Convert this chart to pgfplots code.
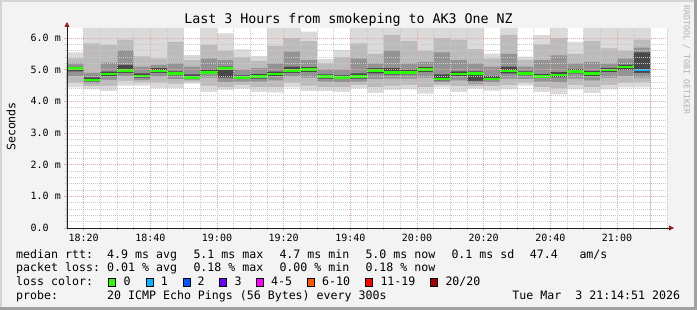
\documentclass[border=0pt]{standalone}
\usepackage{pgfplots}
\pgfplotsset{compat=1.18}
\usepackage{pgfplotstable}
\usetikzlibrary{arrows.meta}
\usepackage{fontspec}
\setmainfont{DejaVu Sans Mono}

\definecolor{bg}{HTML}{F3F3F3}
\definecolor{shadeA}{HTML}{D4D4D4}
\definecolor{shadeB}{HTML}{A0A0A0}
\definecolor{mgridc}{HTML}{E8A8A8}
\definecolor{gridc}{HTML}{C8C8C8}
\definecolor{arrowc}{HTML}{8F1F1F}
\definecolor{axisc}{HTML}{1F1F1F}
\definecolor{rrdc}{HTML}{B0B0B0}
\definecolor{s1}{HTML}{DADADA}
\definecolor{s2}{HTML}{BBBBBB}
\definecolor{s3}{HTML}{939393}
\definecolor{s4}{HTML}{484848}
\definecolor{lc0}{HTML}{26FF00}
\definecolor{lc1}{HTML}{00B8FF}
\definecolor{lc2}{HTML}{0059FF}
\definecolor{lc3}{HTML}{6A00FF}
\definecolor{lc45}{HTML}{FF00FF}
\definecolor{lc610}{HTML}{FF5500}
\definecolor{lc1119}{HTML}{FF0000}
\definecolor{lc20}{HTML}{A10000}

\pgfplotstableread{
x   mn   p10  p25  p40  med  p60  p75  p90  mx
0   4.44 4.58 4.80 4.95 5.03 5.09 5.20 5.36 5.55
5   4.38 4.48 4.57 4.63 4.68 4.76 4.90 5.83 6.32
10  4.33 4.50 4.68 4.80 4.86 4.94 5.22 5.78 6.32
15  4.50 4.65 4.80 4.90 4.97 5.15 5.62 5.95 6.32
20  4.50 4.60 4.68 4.75 4.80 4.88 5.10 5.42 6.32
25  4.42 4.58 4.78 4.90 4.96 5.05 5.15 5.35 6.32
30  4.42 4.55 4.70 4.82 4.87 4.95 5.20 5.88 6.32
35  4.56 4.62 4.68 4.72 4.75 4.85 5.10 5.30 5.46
40  4.30 4.50 4.75 4.86 4.91 5.00 5.35 5.78 6.32
45  4.36 4.45 4.60 4.75 5.03 5.10 5.30 5.60 6.15
50  4.40 4.52 4.62 4.70 4.75 4.82 5.00 5.40 5.64
55  4.30 4.45 4.62 4.72 4.78 4.86 5.05 5.28 5.43
60  4.28 4.45 4.66 4.80 4.86 4.94 5.20 5.75 6.32
65  4.44 4.58 4.78 4.90 4.97 5.10 5.57 6.00 6.32
70  4.33 4.50 4.75 4.92 5.00 5.08 5.30 5.90 6.20
75  4.32 4.45 4.62 4.72 4.78 4.85 5.00 5.20 5.33
80  4.30 4.45 4.60 4.70 4.75 4.82 5.00 5.40 5.62
85  4.41 4.52 4.62 4.72 4.78 4.88 5.35 5.83 6.32
90  4.27 4.45 4.70 4.88 4.97 5.05 5.20 5.50 6.32
95  4.36 4.50 4.72 4.84 4.91 5.05 5.60 6.10 6.32
100 4.38 4.52 4.72 4.85 4.91 5.00 5.20 5.90 6.32
105 4.24 4.45 4.75 4.92 5.00 5.08 5.25 5.60 6.32
110 4.44 4.52 4.60 4.66 4.71 4.85 5.55 6.00 6.32
115 4.30 4.48 4.66 4.80 4.86 4.95 5.30 5.95 6.32
120 4.40 4.48 4.55 4.65 4.87 4.95 5.20 5.65 6.32
125 4.34 4.48 4.60 4.67 4.71 4.80 5.10 5.35 5.51
130 4.38 4.52 4.72 4.88 4.96 5.10 5.50 6.10 6.32
135 4.50 4.58 4.70 4.82 4.87 4.95 5.10 5.30 5.41
140 4.30 4.45 4.62 4.73 4.78 4.86 5.30 5.80 6.09
145 4.22 4.40 4.60 4.76 4.83 4.92 5.45 6.00 6.32
150 4.38 4.52 4.72 4.88 4.94 5.02 5.20 5.50 5.88
155 4.26 4.45 4.66 4.80 4.87 4.96 5.25 5.90 6.32
160 4.38 4.52 4.75 4.92 4.99 5.06 5.20 5.67 6.32
165 4.44 4.58 4.80 5.00 5.09 5.16 5.35 5.60 6.32
170 4.44 4.60 4.75 4.90 4.99 5.55 5.70 5.95 6.32
175 4.44 4.60 4.75 4.90 4.99 5.55 5.70 5.95 6.32
}\smoke

\newcommand{\lf}{\fontsize{11.6}{14}\selectfont}

\begin{document}
\begin{tikzpicture}[x=1pt,y=1pt]
\fill[bg] (0,0) rectangle (697,310);
\fill[shadeA] (0,308) rectangle (697,310);
\fill[shadeA] (0,0) rectangle (2,310);
\fill[shadeB] (0,0) rectangle (697,3);
\fill[shadeB] (694,0) rectangle (697,310);

\begin{axis}[
  at={(67pt,82pt)}, anchor=south west, scale only axis,
  width=600pt, height=200pt,
  xmin=0, xmax=180, ymin=0, ymax=6.316,
  axis background/.style={fill=white},
  axis lines=left, axis on top,
  x axis line style={draw=axisc, line width=0.8pt, -{Triangle[length=5pt,width=5pt,color=arrowc]}, shorten >=-7pt},
  y axis line style={draw=axisc, line width=0.8pt, -{Triangle[length=5pt,width=5pt,color=arrowc]}, shorten >=-6pt},
  xtick={5,25,...,165},
  xticklabels={18:20,18:40,19:00,19:20,19:40,20:00,20:20,20:40,21:00},
  minor xtick={0,5,...,180},
  ytick={0,1,...,6},
  yticklabels={0.0,1.0 m,2.0 m,3.0 m,4.0 m,5.0 m,6.0 m},
  minor y tick num=4,
  grid=both,
  major grid style={draw=mgridc, line width=0.7pt, dash pattern=on 1pt off 1pt},
  minor grid style={draw=gridc, line width=0.7pt, dash pattern=on 1pt off 1pt},
  tick align=outside, major tick length=3pt, minor tick length=2pt,
  major tick style={draw=mgridc, line width=0.7pt},
  minor tick style={draw=gridc, line width=0.7pt},
  xticklabel style={font=\fontsize{10}{12}\selectfont, anchor=center, yshift=-6.5pt, inner sep=0pt},
  yticklabel style={font=\fontsize{10}{12}\selectfont, anchor=west, xshift=-33.5pt, inner sep=0pt},
  /pgf/number format/assume math mode=true,
  every axis plot/.append style={draw=none, const plot mark left},
]
\addplot[fill=s1] table[x=x,y=mx]  {\smoke} \closedcycle;
\addplot[fill=s2] table[x=x,y=p90] {\smoke} \closedcycle;
\addplot[fill=s3] table[x=x,y=p75] {\smoke} \closedcycle;
\addplot[fill=s4] table[x=x,y=p60] {\smoke} \closedcycle;
\addplot[fill=s3] table[x=x,y=p40] {\smoke} \closedcycle;
\addplot[fill=s2] table[x=x,y=p25] {\smoke} \closedcycle;
\addplot[fill=s1] table[x=x,y=p10] {\smoke} \closedcycle;
\addplot[fill=white] table[x=x,y=mn] {\smoke} \closedcycle;
\addplot[draw=lc0, line width=2.6pt, jump mark left] coordinates {
(0,5.03) (5,4.68) (10,4.86) (15,4.97) (20,4.80) (25,4.96) (30,4.87) (35,4.75)
(40,4.91) (45,5.03) (50,4.75) (55,4.78) (60,4.86) (65,4.97) (70,5.00) (75,4.78)
(80,4.75) (85,4.78) (90,4.97) (95,4.91) (100,4.91) (105,5.00) (110,4.71) (115,4.86)
(120,4.87) (125,4.71) (130,4.96) (135,4.87) (140,4.78) (145,4.83) (150,4.94) (155,4.87)
(160,4.99) (165,5.09) (170,5.09)};
\addplot[draw=lc1, line width=2.6pt, jump mark left] coordinates {(170,4.99) (175,4.99)};
\end{axis}

\node[anchor=base, inner sep=0pt, font=\fontsize{13.3}{16}\selectfont] at (348.5,286) {Last 3 Hours from smokeping to AK3 One NZ};
\node[rotate=90, inner sep=0pt, font=\lf] at (11,183.5) {Seconds};
\node[rotate=-90, inner sep=0pt, text=rrdc, font=\fontsize{8.3}{10}\selectfont] at (686.5,250) {RRDTOOL / TOBI OETIKER};

\begin{scope}[every node/.style={anchor=base west, inner sep=0pt, font=\lf}]
\node at (16,51.7) {median rtt:};
\node at (107,51.7) {4.9 ms avg};
\node at (193.3,51.7) {5.1 ms max};
\node at (279.3,51.7) {4.7 ms min};
\node at (365.3,51.7) {5.0 ms now};
\node at (451.3,51.7) {0.1 ms sd};
\node at (529.7,51.7) {47.4};
\node at (579.3,51.7) {am/s};
\node at (16,38) {packet loss:};
\node at (107,38) {0.01 \% avg};
\node at (193.3,38) {0.18 \% max};
\node at (279.3,38) {0.00 \% min};
\node at (365.3,38) {0.18 \% now};
\node at (16,24.3) {loss color:};
\node at (123.3,24.3) {0};
\node at (160.7,24.3) {1};
\node at (197.3,24.3) {2};
\node at (234.3,24.3) {3};
\node at (271,24.3) {4-5};
\node at (322,24.3) {6-10};
\node at (380.3,24.3) {11-19};
\node at (445.3,24.3) {20/20};
\node at (16,10.3) {probe:};
\node at (107,10.3) {20 ICMP Echo Pings (56 Bytes) every 300s};
\node[anchor=base east] at (680.3,10.3) {Tue Mar~~3 21:14:51 2026};
\end{scope}
\begin{scope}[line width=0.7pt, draw=black]
\filldraw[fill=lc0]   (108.6,24) rectangle ++(7,7.6);
\filldraw[fill=lc1]   (146.0,24) rectangle ++(7,7.6);
\filldraw[fill=lc2]   (183.0,24) rectangle ++(7,7.6);
\filldraw[fill=lc3]   (219.6,24) rectangle ++(7,7.6);
\filldraw[fill=lc45]  (256.6,24) rectangle ++(7,7.6);
\filldraw[fill=lc610] (307.0,24) rectangle ++(7,7.6);
\filldraw[fill=lc1119](365.6,24) rectangle ++(7,7.6);
\filldraw[fill=lc20]  (430.6,24) rectangle ++(7,7.6);
\end{scope}
\end{tikzpicture}
\end{document}
